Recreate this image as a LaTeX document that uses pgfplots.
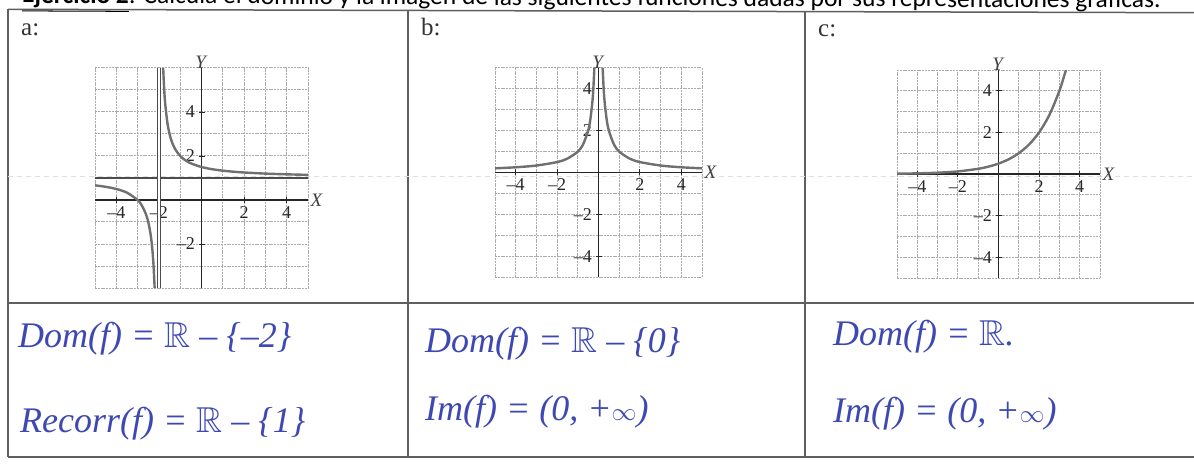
\documentclass[border=0pt]{standalone}
\usepackage{pgfplots}
\pgfplotsset{compat=1.18}
\usepackage{amssymb}
\usepackage{fontspec}
\setmainfont{Liberation Serif}
\newfontfamily\carlito{Carlito}
\definecolor{ink}{RGB}{62,72,178}
\definecolor{curve}{RGB}{112,112,112}
\definecolor{rule}{RGB}{95,95,95}

% common look of the three function graphs
\pgfplotsset{
  graphgrid/.style={
    scale only axis, anchor=south west,
    axis lines=middle,
    axis line style={-, black!85, line width=1.4pt},
    grid=both,
    grid style={gray!65, line width=1pt, dash pattern=on 2pt off 0.8pt},
    major grid style={gray!65, line width=1pt, dash pattern=on 2pt off 0.8pt},
    minor tick length=0pt, major tick length=6pt,
    tick style={black!85, line width=0.9pt},
    tick label style={font=\fontsize{18}{18}\selectfont, text=black!85},
    xlabel={\textit{X}}, ylabel={\textit{Y}},
    label style={font=\fontsize{19}{19}\selectfont, text=black!75},
    xlabel style={anchor=west, xshift=-1pt},
    ylabel style={anchor=south, yshift=-4pt},
    clip=true,
  },
  fcurve/.style={curve, line width=2.4pt, solid, mark=none, smooth},
}

\begin{document}
\begin{tikzpicture}
\clip (0pt,0pt) rectangle (1194pt,464pt);
\fill[white] (0pt,0pt) rectangle (1194pt,464pt);

% heading line, half cut by the page edge
\node[anchor=base west, inner sep=0pt, rotate=-0.25,
      font=\carlito\fontsize{25.5}{30}\selectfont] at (22pt,461pt)
  {\underline{\textbf{Ejercicio 2}}: Calcula el dominio y la imagen de las siguientes funciones dadas por sus representaciones gráficas.};

% table rules
\draw[rule, line width=1.5pt] (8pt,454.7pt) -- (1194pt,451.3pt);
\draw[rule, line width=1.4pt] (8pt,161pt) -- (1194pt,161pt);
\draw[rule, line width=1.4pt] (8pt,7pt) -- (1194pt,7pt);
\draw[rule, line width=1.4pt] (8pt,455pt) -- (8pt,7pt);
\draw[rule, line width=1.4pt] (408pt,454pt) -- (408pt,7pt);
\draw[rule, line width=1.4pt] (805pt,453pt) -- (805pt,7pt);
\draw[gray!25, line width=1pt, dash pattern=on 5pt off 4pt] (8pt,287pt) -- (1194pt,287pt);

% cell letters
\node[anchor=base west, inner sep=0pt, font=\fontsize{25}{25}\selectfont, text=black!80] at (21pt,428pt) {a:};
\node[anchor=base west, inner sep=0pt, font=\fontsize{25}{25}\selectfont, text=black!80] at (421pt,428pt) {b:};
\node[anchor=base west, inner sep=0pt, font=\fontsize{25}{25}\selectfont, text=black!80] at (818pt,427pt) {c:};

% graph a: f(x) = 1 + 1/(x+2)
\begin{axis}[graphgrid, at={(95pt,176pt)}, width=213pt, height=220pt,
  xmin=-5, xmax=5, ymin=-4, ymax=6,
  xtick={-4,-2,2,4}, ytick={-2,2,4},
  xticklabels={\textendash4,\textendash2,2,4},
  yticklabels={\textendash2,2,4},
  minor xtick={-5,-3,-1,0,1,3,5}, minor ytick={-4,-3,-1,0,1,3,5,6}]
\addplot[line width=1.8pt, color=black!70] coordinates {(-5,1) (5,1)};
\addplot[line width=0.9pt, color=black!70, double=white, double distance=1.8pt]
  coordinates {(-2,-4) (-2,6)};
\addplot[fcurve] coordinates {
  (-5,0.6667) (-4.5,0.6) (-4,0.5) (-3.5,0.3333) (-3,0) (-2.8,-0.25)
  (-2.6,-0.6667) (-2.5,-1) (-2.4,-1.5) (-2.35,-1.857) (-2.3,-2.333)
  (-2.25,-3) (-2.2,-4)};
\addplot[fcurve] coordinates {
  (-1.8,6) (-1.75,5) (-1.7,4.333) (-1.6,3.5) (-1.5,3) (-1.4,2.667)
  (-1.25,2.333) (-1,2) (-0.75,1.8) (-0.5,1.667) (0,1.5) (0.5,1.4)
  (1,1.333) (1.5,1.2857) (2,1.25) (3,1.2) (4,1.1667) (5,1.1429)};
\end{axis}

% graph b: f(x) = 1/|x|
\begin{axis}[graphgrid, at={(495pt,187pt)}, width=207pt, height=209pt,
  xmin=-5, xmax=5, ymin=-5, ymax=5,
  xtick={-4,-2,2,4}, ytick={-4,-2,2,4},
  xticklabels={\textendash4,\textendash2,2,4},
  yticklabels={\textendash4,\textendash2,2,4},
  minor xtick={-5,-3,-1,0,1,3,5}, minor ytick={-5,-3,-1,0,1,3,5}]
\addplot[fcurve] coordinates {
  (-5,0.2) (-4,0.25) (-3,0.3333) (-2,0.5) (-1.5,0.6667) (-1,1)
  (-0.75,1.3333) (-0.5,2) (-0.4,2.5) (-0.3,3.3333) (-0.25,4) (-0.2,5)};
\addplot[fcurve] coordinates {
  (0.2,5) (0.25,4) (0.3,3.3333) (0.4,2.5) (0.5,2) (0.75,1.3333)
  (1,1) (1.5,0.6667) (2,0.5) (3,0.3333) (4,0.25) (5,0.2)};
\end{axis}

% graph c: f(x) = 2^(x-1)
\begin{axis}[graphgrid, at={(897pt,186pt)}, width=203pt, height=208pt,
  xmin=-5, xmax=5, ymin=-5, ymax=5,
  xtick={-4,-2,2,4}, ytick={-4,-2,2,4},
  xticklabels={\textendash4,\textendash2,2,4},
  yticklabels={\textendash4,\textendash2,2,4},
  minor xtick={-5,-3,-1,0,1,3,5}, minor ytick={-5,-3,-1,0,1,3,5}]
\addplot[fcurve] coordinates {
  (-5,0.0156) (-4,0.0313) (-3,0.0625) (-2,0.125) (-1,0.25) (-0.5,0.3536)
  (0,0.5) (0.5,0.7071) (1,1) (1.5,1.4142) (2,2) (2.5,2.8284) (3,4) (3.32,5)};
\end{axis}

% handwritten answers
\begin{scope}[every node/.style={anchor=base west, inner sep=0pt, text=ink,
    font=\itshape\fontsize{36}{40}\selectfont}]
\node at (18pt,117pt)  {Dom(f) = $\mathbb{R}$ \textendash\ \{\textendash2\}};
\node at (20pt,32pt)   {Recorr(f) = $\mathbb{R}$ \textendash\ \{1\}};
\node at (425pt,112pt) {Dom(f) = $\mathbb{R}$ \textendash\ \{0\}};
\node at (425pt,44pt)  {Im(f) = (0, +$\infty$)};
\node at (833pt,119pt) {Dom(f) = $\mathbb{R}$.};
\node at (833pt,42pt)  {Im(f) = (0, +$\infty$)};
\end{scope}
\end{tikzpicture}
\end{document}
